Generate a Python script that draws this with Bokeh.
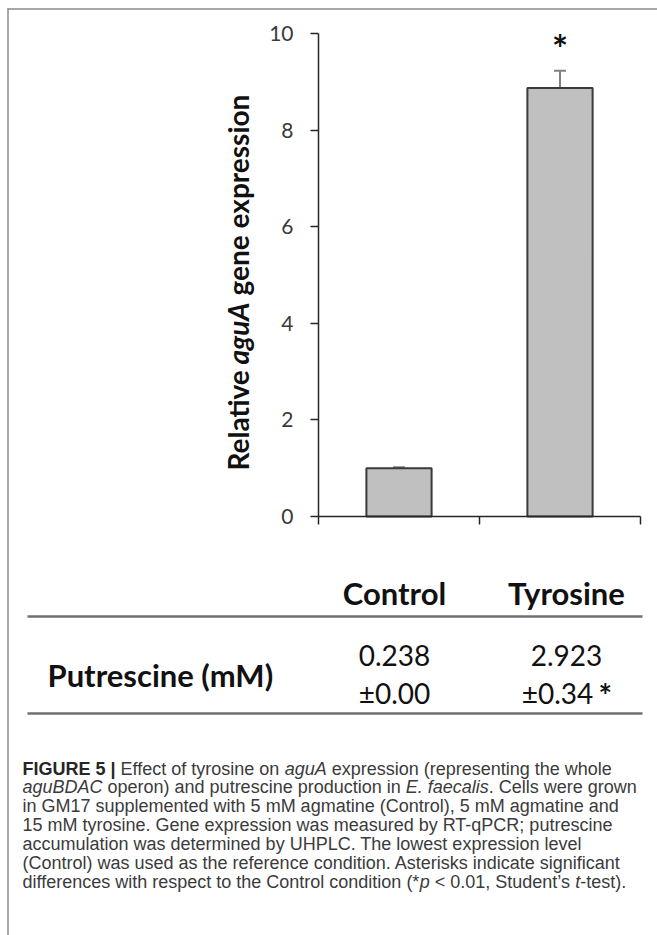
import math
from bokeh.plotting import figure
from bokeh.models import (ColumnDataSource, Label, LinearAxis, FixedTicker, Range1d,
                          Whisker, TeeHead)
from bokeh.embed import file_html
from bokeh.resources import INLINE
from bokeh.core.properties import value

# ---------------- data ----------------
conditions = ["Control", "Tyrosine"]
positions = [0.5, 1.5]
expression = [1.0, 8.87]
expression_err = [0.02, 0.36]
significance = ["", "*"]
y_ticks = [0, 2, 4, 6, 8, 10]
x_ticks = [0, 1, 2]
y_label_parts = ["Relative", "aguA", "gene expression"]
putrescine_label = "Putrescine (mM)"
putrescine_mean = ["0.238", "2.923"]
putrescine_sd = ["±0.00", "±0.34"]
putrescine_sig = ["", "*"]
caption = [
    [("FIGURE 5 | ", "bold"), ("Effect of tyrosine on ", "normal"), ("aguA", "italic"),
     (" expression (representing the whole", "normal")],
    [("aguBDAC", "italic"), (" operon) and putrescine production in ", "normal"),
     ("E. faecalis", "italic"), (". Cells were grown", "normal")],
    [("in GM17 supplemented with 5 mM agmatine (Control), 5 mM agmatine and", "normal")],
    [("15 mM tyrosine. Gene expression was measured by RT-qPCR; putrescine", "normal")],
    [("accumulation was determined by UHPLC. The lowest expression level", "normal")],
    [("(Control) was used as the reference condition. Asterisks indicate significant", "normal")],
    [("differences with respect to the Control condition (*", "normal"), ("p", "italic"),
     (" < 0.01, Student\u2019s ", "normal"), ("t", "italic"), ("-test).", "normal")],
]

# ---------------- layout (image pixel coordinates) ----------------
W, H = 657, 935
X_LO, X_HI = 0, W
Y_TOP, Y_BOT = 0, H
AX_X0, AX_X2 = 318, 640      # image x of category-axis 0 and 2
AX_Y0, AX_Y10 = 516, 33      # image y of value 0 and 10
ppx = (AX_X2 - AX_X0) / 2.0
ppy = (AX_Y0 - AX_Y10) / 10.0

CHART_FONT = "Lato"
CAP_FONT = "Liberation Sans"
CAP_SIZE = 18

p = figure(width=W, height=H, x_range=Range1d(X_LO, X_HI), y_range=Range1d(Y_BOT, Y_TOP),
           x_axis_type=None, y_axis_type=None, toolbar_location=None,
           output_backend="svg", min_border=0, min_border_left=0, min_border_right=0,
           min_border_top=0, min_border_bottom=0)
p.outline_line_color = None
p.background_fill_color = "white"
p.border_fill_color = "white"

p.extra_x_ranges = {"cat": Range1d((X_LO - AX_X0) / ppx, (X_HI - AX_X0) / ppx)}
p.extra_y_ranges = {"expr": Range1d((AX_Y0 - Y_BOT) / ppy, (AX_Y0 - Y_TOP) / ppy)}

# ---------------- bars ----------------
src = ColumnDataSource(dict(
    pos=positions, expr=expression,
    upper=[v + e for v, e in zip(expression, expression_err)],
    sig=significance, cond=conditions))

p.vbar(x="pos", width=0.405, bottom=0, top="expr", source=src,
       x_range_name="cat", y_range_name="expr",
       fill_color="#c0c0c0", line_color="#3a3a3a", line_width=2)

wh = Whisker(source=src, base="pos", upper="upper", lower="expr", dimension="height",
             line_color="#808080", line_width=2,
             upper_head=TeeHead(size=12, line_color="#808080", line_width=2),
             lower_head=None, x_range_name="cat", y_range_name="expr")
p.add_layout(wh)

p.text(x="pos", y="upper", text="sig", source=src, x_range_name="cat", y_range_name="expr",
       text_font=value(CHART_FONT), text_font_style="bold", text_font_size="38px",
       text_align="center", text_baseline="bottom", text_color="#111111")

# ---------------- axes ----------------
yaxis = LinearAxis(y_range_name="expr", fixed_location=AX_X0, bounds=(0, 10),
                   ticker=FixedTicker(ticks=y_ticks))
yaxis.major_tick_out = 8
yaxis.major_tick_in = 0
yaxis.minor_tick_out = 0
yaxis.minor_tick_in = 0
yaxis.axis_line_color = "#262626"
yaxis.axis_line_width = 1.5
yaxis.major_tick_line_color = "#262626"
yaxis.major_tick_line_width = 1.5
yaxis.major_label_standoff = 17
yaxis.major_label_text_font = CHART_FONT
yaxis.major_label_text_font_size = "21px"
yaxis.major_label_text_color = "#3a3a3a"
p.add_layout(yaxis, "left")

xaxis = LinearAxis(x_range_name="cat", fixed_location=AX_Y0, bounds=(0, 2),
                   ticker=FixedTicker(ticks=x_ticks))
xaxis.major_tick_out = 8
xaxis.major_tick_in = 0
xaxis.minor_tick_out = 0
xaxis.minor_tick_in = 0
xaxis.axis_line_color = "#262626"
xaxis.axis_line_width = 1.5
xaxis.major_tick_line_color = "#262626"
xaxis.major_tick_line_width = 1.5
xaxis.major_label_overrides = {t: "" for t in x_ticks}
p.add_layout(xaxis, "below")

# y axis title (rotated, mixed styles)
YL_X = 237
for txt, ystart, style in [(y_label_parts[0], 470, "bold"),
                           (y_label_parts[1], 364, "bold italic"),
                           (y_label_parts[2], 295, "bold")]:
    p.add_layout(Label(x=YL_X, y=ystart, text=txt, angle=math.pi / 2,
                       text_font=CHART_FONT, text_font_size="28px", text_font_style=style,
                       text_align="left", text_baseline="alphabetic", text_color="#111111"))

# ---------------- frame lines ----------------
p.segment(x0=[7, 7.5], y0=[8.5, 8], x1=[X_HI, 7.5], y1=[8.5, Y_BOT],
          line_color="#8a8a8a", line_width=1.5)

# ---------------- table ----------------
COL_X = [394, 566]
p.segment(x0=[27, 27], y0=[616, 713], x1=[642, 642], y1=[616, 713],
          line_color="#707070", line_width=2.5)
for cx, c in zip(COL_X, conditions):
    p.add_layout(Label(x=cx, y=592, text=c, text_font=CHART_FONT, text_font_size="31px",
                       text_font_style="bold", text_align="center",
                       text_baseline="alphabetic", text_color="#111111"))
p.add_layout(Label(x=47, y=674, text=putrescine_label, text_font=CHART_FONT,
                   text_font_size="31px", text_font_style="bold", text_align="left",
                   text_baseline="alphabetic", text_color="#111111"))
for cx, m, sd, sg in zip(COL_X, putrescine_mean, putrescine_sd, putrescine_sig):
    p.add_layout(Label(x=cx, y=655, text=m, text_font=CHART_FONT, text_font_size="28px",
                       text_align="center", text_baseline="alphabetic", text_color="#111111"))
    p.add_layout(Label(x=cx - (9 if sg else 0), y=692, text=sd, text_font=CHART_FONT,
                       text_font_size="28px", text_align="center",
                       text_baseline="alphabetic", text_color="#111111"))
    if sg:
        p.add_layout(Label(x=cx + 32, y=695, text=sg, text_font=CHART_FONT,
                           text_font_size="32px", text_font_style="bold", text_align="left",
                           text_baseline="alphabetic", text_color="#111111"))

# ---------------- caption ----------------
REG = {' ': 278, '!': 278, '(': 333, ')': 333, '*': 389, ',': 278, '-': 333, '.': 278,
       ':': 278, ';': 278, '<': 584, '|': 260, "'": 191, '\u2019': 222,
       'A': 667, 'B': 667, 'C': 722, 'D': 722, 'E': 667, 'F': 611, 'G': 778, 'H': 722,
       'I': 278, 'J': 500, 'K': 667, 'L': 556, 'M': 833, 'N': 722, 'O': 778, 'P': 667,
       'Q': 778, 'R': 722, 'S': 667, 'T': 611, 'U': 722, 'V': 667, 'W': 944, 'X': 667,
       'Y': 667, 'Z': 611, 'a': 556, 'b': 556, 'c': 500, 'd': 556, 'e': 556, 'f': 278,
       'g': 556, 'h': 556, 'i': 222, 'j': 222, 'k': 500, 'l': 222, 'm': 833, 'n': 556,
       'o': 556, 'p': 556, 'q': 556, 'r': 333, 's': 500, 't': 278, 'u': 556, 'v': 500,
       'w': 722, 'x': 500, 'y': 500, 'z': 500}
for d in "0123456789":
    REG[d] = 556
BOLD = {' ': 278, '|': 280, '5': 556, 'F': 611, 'I': 278, 'G': 778, 'U': 722, 'R': 722,
        'E': 667}


def text_width(s, style):
    tbl = BOLD if style == "bold" else REG
    return sum(tbl.get(ch, REG.get(ch, 556)) for ch in s) / 1000.0 * CAP_SIZE


CAP_X = 22
CAP_BASE = 768
CAP_PITCH = 18.9
for i, line in enumerate(caption):
    x = CAP_X
    yb = CAP_BASE + i * CAP_PITCH
    for seg, style in line:
        lead = len(seg) - len(seg.lstrip(" "))
        shown = seg.strip(" ")
        p.add_layout(Label(x=x + text_width(" " * lead, style), y=yb, text=shown,
                           text_font=CAP_FONT, text_font_size=f"{CAP_SIZE}px",
                           text_font_style=style, text_align="left",
                           text_baseline="alphabetic",
                           text_color="#262626" if style == "bold" else "#3b3b3b"))
        x += text_width(seg, style)

open("out.html", "w").write(file_html(p, INLINE))
